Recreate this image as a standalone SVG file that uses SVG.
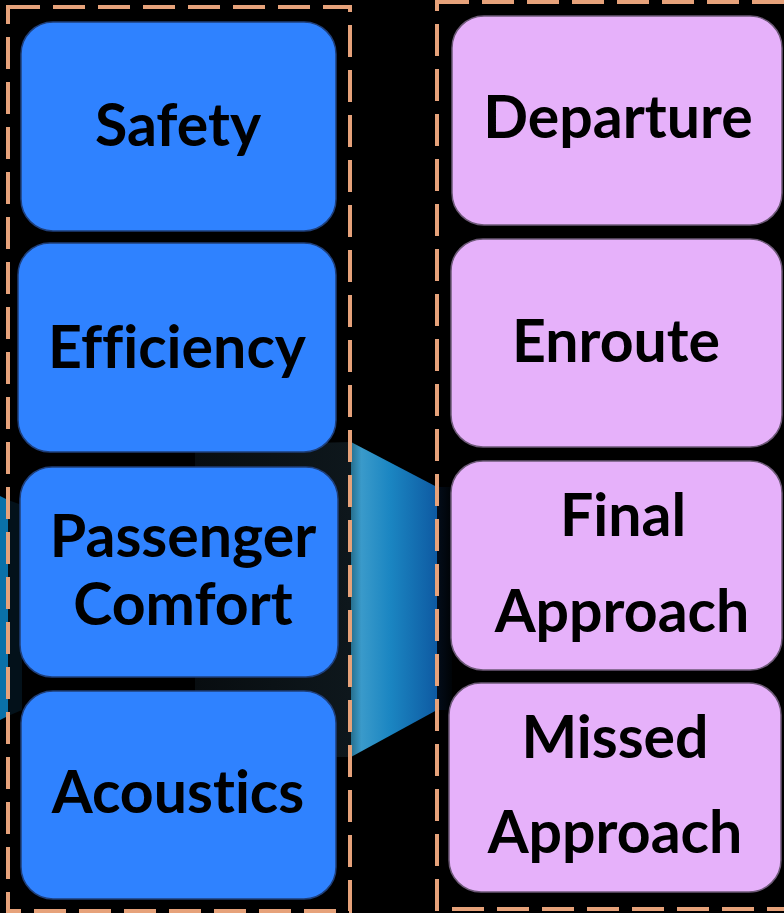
<svg xmlns="http://www.w3.org/2000/svg" width="784" height="913" viewBox="0 0 784 913">
<defs>
<linearGradient id="funnel" x1="0" y1="0" x2="1" y2="0">
<stop offset="0" stop-color="#27708F"/>
<stop offset="0.12" stop-color="#3A9ACA"/>
<stop offset="0.45" stop-color="#1B86C2"/>
<stop offset="1" stop-color="#0E5AA2"/>
</linearGradient>
<linearGradient id="shadowL" x1="0" y1="0" x2="1" y2="0">
<stop offset="0" stop-color="#080d10"/>
<stop offset="1" stop-color="#0e171c"/>
</linearGradient>
<linearGradient id="shadowR" x1="0" y1="0" x2="1" y2="0">
<stop offset="0" stop-color="#030d1a"/>
<stop offset="1" stop-color="#000306"/>
</linearGradient>
<style>
.frame{fill:none;stroke:#E6A27A;stroke-width:4;stroke-dasharray:32 13}
.blue{fill:#2F82FF;stroke:#1F3F7A;stroke-width:1.5}
.pink{fill:#E6B1FA;stroke:#6E5A78;stroke-width:1.5}
.t{font-family:Lato,"Open Sans",sans-serif;font-weight:700;font-size:59px;fill:#000;text-anchor:middle;font-variant-ligatures:none;font-feature-settings:"liga" 0}
</style>
</defs>
<rect width="784" height="913" fill="#000"/>
<g id="connectors">
<polygon points="195,446 351,442 351,757 195,757" fill="url(#shadowL)"/>
<polygon points="437,487 452,487 452,710 437,710" fill="url(#shadowR)"/>
<polygon points="351,442 437,487 437,710 351,757" fill="url(#funnel)"/>
<polygon points="0,496 8,500 8,716 0,720" fill="#0A71A9"/>
<polygon points="8,500 22,505 22,710 8,716" fill="#03111a"/>
</g>
<g id="frame-left"><rect class="frame" x="8" y="7" width="342" height="904"/></g>
<g id="frame-right"><rect class="frame" x="437" y="2" width="380" height="907"/></g>
<g id="safety"><rect class="blue" x="21" y="22" width="315" height="209" rx="32"/><text class="t" x="178" y="146">Safety</text></g>
<g id="efficiency"><rect class="blue" x="18" y="243" width="318" height="209" rx="32"/><text class="t" x="177" y="368">Efficiency</text></g>
<g id="comfort"><rect class="blue" x="20" y="467" width="318" height="210" rx="32"/><text class="t" x="183" y="557">Passenger</text><text class="t" x="183" y="625">Comfort</text></g>
<g id="acoustics"><rect class="blue" x="21" y="691" width="315" height="208" rx="32"/><text class="t" x="178" y="813">Acoustics</text></g>
<g id="departure"><rect class="pink" x="452" y="16" width="330" height="209" rx="32"/><text class="t" x="618" y="138">Departure</text></g>
<g id="enroute"><rect class="pink" x="451" y="239" width="331" height="208" rx="32"/><text class="t" x="616" y="362">Enroute</text></g>
<g id="final"><rect class="pink" x="451" y="461" width="331" height="209" rx="32"/><text class="t" x="623" y="536">Final</text><text class="t" x="622" y="632">Approach</text></g>
<g id="missed"><rect class="pink" x="449" y="683" width="332" height="209" rx="32"/><text class="t" x="615" y="758">Missed</text><text class="t" x="615" y="853">Approach</text></g>
</svg>
